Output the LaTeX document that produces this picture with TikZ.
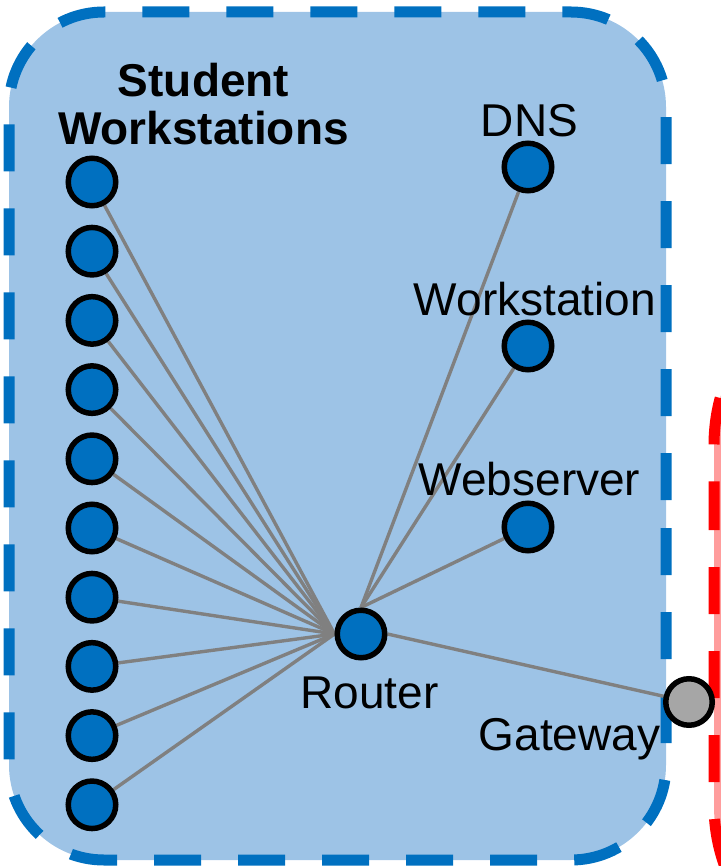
\documentclass[tikz,border=0pt]{standalone}
\usepackage{fontspec}
\setmainfont{Liberation Sans}
\usetikzlibrary{backgrounds}
\definecolor{zonefill}{HTML}{9DC3E6}
\definecolor{zoneline}{HTML}{0070C0}
\definecolor{nodeblue}{HTML}{0070C0}
\definecolor{gwgray}{HTML}{A6A6A6}
\definecolor{linkgray}{HTML}{808080}
\definecolor{redfill}{HTML}{FF9D9D}
\definecolor{redline}{HTML}{FF0000}
\begin{document}
\begin{tikzpicture}[x=1pt,y=-1pt,
  netnode/.style={circle,draw=black,line width=5.5pt,fill=nodeblue,minimum size=47.5pt,inner sep=0pt},
  gwnode/.style={netnode,fill=gwgray,minimum size=46.5pt},
  link/.style={draw=linkgray,line width=3.4pt},
  lbl/.style={font=\fontsize{46}{48}\selectfont,inner sep=0pt,anchor=base},
  zonebox/.style={line width=11pt,dash pattern=on 47pt off 37pt},
]
\useasboundingbox (0,0) rectangle (720,866);

% nodes
\foreach \i in {1,...,10}
  \node[netnode] (s\i) at (92,{182+69.2*(\i-1)}) {};
\node[netnode] (router) at (361,634) {};
\node[netnode] (dns) at (528,167) {};
\node[netnode] (ws) at (528,346) {};
\node[netnode] (web) at (528,527) {};
\node[gwnode] (gw) at (689,702) {};

% labels
\node[font=\fontsize{46}{48}\selectfont\bfseries,align=center,inner sep=0pt] (stl) at (203.5,104) {Student\\Workstations};
\node[lbl] (dnsl) at (529.5,137) {DNS};
\node[lbl] (wsl) at (535,315) {Workstation};
\node[lbl] (webl) at (529.5,495) {Webserver};
\node[lbl] (routerl) at (369.5,708) {Router};
\node[lbl] (gwl) at (569.5,750) {Gateway};

\begin{pgfonlayer}{background}
  % red zone (mostly off page)
  \path[zonebox,fill=redfill,draw=redline]
    (714,483) -- (714,805)
    .. controls (714,904.4) and (794.6,985) .. (894,985)
    -- (1500,985) -- (1500,265) -- (894,265)
    .. controls (794.6,265) and (714,345.6) .. (714,445)
    -- cycle;
  % blue zone
  \path[zonebox,fill=zonefill,draw=zoneline,rounded corners=95pt]
    (666,433) -- (666,860) -- (9,860) -- (9,12) -- (666,12) -- cycle;
  % links
  \foreach \i in {1,...,10}
    \draw[link] (s\i) -- (router.west);
  \draw[link] (router.north) -- (dns);
  \draw[link] (router.north) -- (ws);
  \draw[link] (router.north) -- (web);
  \draw[link] (router.east) -- (gw);
\end{pgfonlayer}
\end{tikzpicture}
\end{document}
